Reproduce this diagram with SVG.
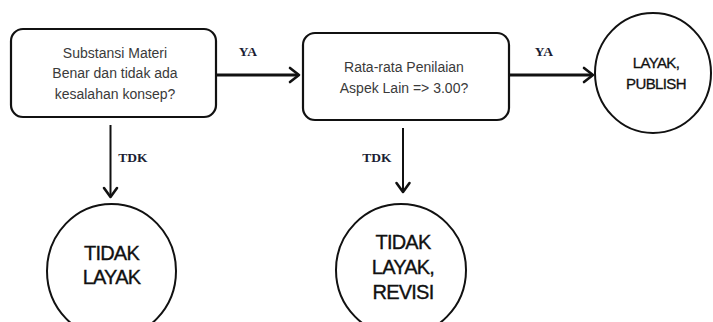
<svg xmlns="http://www.w3.org/2000/svg" width="713" height="322" viewBox="0 0 713 322">
  <style>
    .box { fill: #fff; stroke: #111; stroke-width: 2.2; }
    .end { fill: #fff; stroke: #111; stroke-width: 2; }
    .q { font-family: "Liberation Sans", Arial, sans-serif; font-size: 14px; fill: #3a3a3a; text-anchor: middle; }
    .big { font-family: "Liberation Sans", Arial, sans-serif; font-size: 20px; fill: #111; stroke: #111; stroke-width: 0.35; text-anchor: middle; letter-spacing: -0.8px; }
    .mid { font-family: "Liberation Sans", Arial, sans-serif; font-size: 15px; fill: #111; stroke: #111; stroke-width: 0.3; text-anchor: middle; letter-spacing: -0.6px; }
    .lbl { font-family: "Liberation Serif", "Times New Roman", serif; font-size: 13.5px; font-weight: bold; fill: #1b1d33; text-anchor: middle; }
    .h { stroke: #111; stroke-width: 3; fill: none; }
    .v { stroke: #111; stroke-width: 2; fill: none; }
    .head { stroke: #111; stroke-width: 2.6; fill: none; stroke-linecap: round; stroke-linejoin: round; }
  </style>

  <!-- decision: subject matter -->
  <g id="q-materi">
    <rect class="box" x="11" y="29" width="205" height="88" rx="12"/>
    <text class="q" x="115" y="58">Substansi Materi</text>
    <text class="q" x="115" y="78">Benar dan tidak ada</text>
    <text class="q" x="115" y="99">kesalahan konsep?</text>
  </g>

  <!-- decision: average score -->
  <g id="q-rata">
    <rect class="box" x="303" y="33" width="206" height="87" rx="12"/>
    <text class="q" x="404" y="72">Rata-rata Penilaian</text>
    <text class="q" x="404" y="93">Aspek Lain =&gt; 3.00?</text>
  </g>

  <!-- outcome: publish -->
  <g id="layak-publish">
    <ellipse class="end" cx="653" cy="73" rx="58" ry="60"/>
    <text class="mid" x="656" y="68">LAYAK,</text>
    <text class="mid" x="656" y="89">PUBLISH</text>
  </g>

  <!-- outcome: rejected -->
  <g id="tidak-layak">
    <ellipse class="end" cx="111.5" cy="271" rx="64.5" ry="67"/>
    <text class="big" x="111.5" y="260">TIDAK</text>
    <text class="big" x="111.5" y="284">LAYAK</text>
  </g>

  <!-- outcome: revise -->
  <g id="tidak-layak-revisi">
    <ellipse class="end" cx="401" cy="270" rx="65" ry="66"/>
    <text class="big" x="403" y="249">TIDAK</text>
    <text class="big" x="403" y="274">LAYAK,</text>
    <text class="big" x="403" y="299">REVISI</text>
  </g>

  <!-- connectors -->
  <g id="connectors">
    <line class="h" x1="216" y1="75" x2="298" y2="75"/>
    <polyline class="head" points="290,68 299,75 290,82"/>
    <text class="lbl" x="248" y="56">YA</text>

    <line class="h" x1="509" y1="75" x2="592" y2="75"/>
    <polyline class="head" points="584,68 593,75 584,82"/>
    <text class="lbl" x="544" y="56">YA</text>

    <line class="v" x1="110.5" y1="125" x2="110.5" y2="196"/>
    <polyline class="head" points="104,188 110.5,197 117,188"/>
    <text class="lbl" x="133" y="162">TDK</text>

    <line class="v" x1="403" y1="128" x2="403" y2="191"/>
    <polyline class="head" points="396.5,183 403,192 409.5,183"/>
    <text class="lbl" x="377" y="162">TDK</text>
  </g>
</svg>
